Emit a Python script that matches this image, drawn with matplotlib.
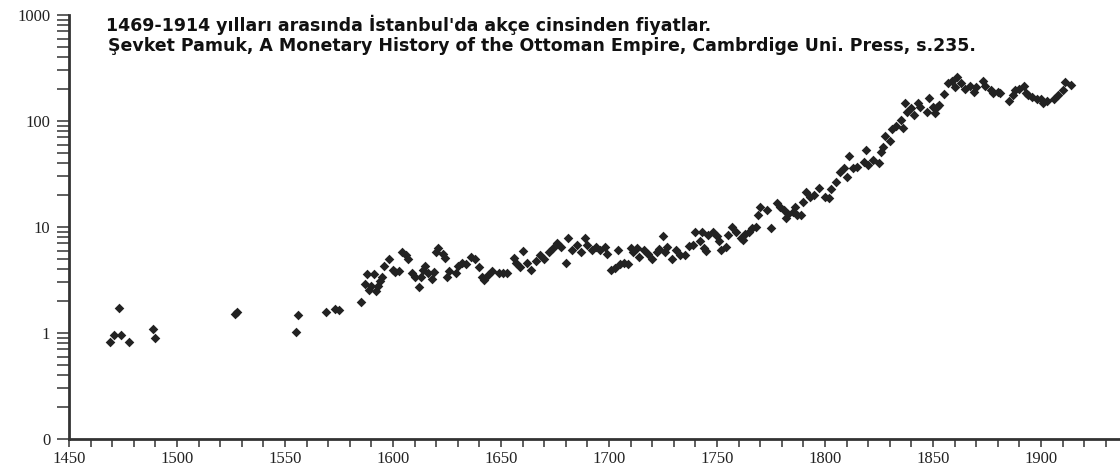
import matplotlib.pyplot as plt
from matplotlib.ticker import FixedLocator, NullFormatter

# price index in akce
years = [1469, 1471, 1473, 1474, 1478, 1489, 1490, 1527, 1528, 1555, 1556,
         1569, 1573, 1575, 1585, 1587, 1588, 1589, 1590, 1591, 1592, 1593,
         1594, 1595, 1596, 1598, 1600, 1601, 1603, 1604, 1606, 1607, 1609,
         1610, 1612, 1613, 1614, 1615, 1616, 1618, 1619, 1620, 1621, 1623,
         1624, 1625, 1626, 1629, 1630, 1632, 1634, 1636, 1638, 1640, 1641,
         1642, 1644, 1646, 1649, 1651, 1653, 1656, 1657, 1659, 1660, 1662,
         1664, 1666, 1668, 1670, 1672, 1674, 1676, 1678, 1680, 1681, 1683,
         1685, 1687, 1689, 1690, 1692, 1694, 1696, 1698, 1699, 1701, 1703,
         1704, 1705, 1707, 1709, 1710, 1711, 1713, 1714, 1716, 1718, 1720,
         1722, 1723, 1725, 1726, 1727, 1729, 1731, 1733, 1735, 1737, 1739,
         1740, 1742, 1743, 1744, 1745, 1746, 1748, 1750, 1751, 1752, 1754,
         1755, 1757, 1759, 1761, 1762, 1763, 1765, 1766, 1768, 1769, 1770,
         1773, 1775, 1778, 1779, 1781, 1782, 1783, 1785, 1786, 1787, 1789,
         1790, 1791, 1793, 1795, 1797, 1800, 1802, 1803, 1805, 1807, 1809,
         1810, 1811, 1813, 1815, 1818, 1819, 1820, 1822, 1825, 1826, 1827,
         1828, 1830, 1831, 1833, 1835, 1836, 1837, 1838, 1840, 1841, 1843,
         1844, 1847, 1848, 1850, 1851, 1852, 1853, 1855, 1857, 1859, 1860,
         1861, 1863, 1865, 1867, 1869, 1870, 1873, 1874, 1877, 1878, 1880,
         1881, 1885, 1887, 1888, 1890, 1892, 1893, 1894, 1896, 1898, 1900,
         1901, 1903, 1906, 1908, 1910, 1911, 1914]
prices = [0.83, 0.96, 1.73, 0.96, 0.82, 1.08, 0.90, 1.50, 1.58, 1.02, 1.47,
          1.58, 1.69, 1.65, 1.95, 2.9, 3.6, 2.55, 2.75, 3.6, 2.5, 2.75,
          3.1, 3.4, 4.3, 5.0, 3.97, 3.78, 3.84, 5.85, 5.45, 5.0, 3.72,
          3.4, 2.74, 3.4, 3.97, 4.3, 3.72, 3.2, 3.78, 5.85, 6.3, 5.6,
          5.1, 3.4, 3.84, 3.66, 4.3, 4.6, 4.5, 5.25, 5.0, 4.2, 3.4,
          3.16, 3.5, 3.84, 3.66, 3.72, 3.72, 5.1, 4.6, 4.2, 6.0, 4.6,
          3.97, 4.8, 5.45, 5.0, 5.85, 6.3, 7.0, 6.5, 4.6, 7.8, 6.07,
          6.8, 5.85, 7.8, 6.8, 6.07, 6.5, 6.07, 6.5, 5.6, 3.97, 4.1,
          6.07, 4.5, 4.6, 4.5, 6.3, 5.85, 6.3, 5.25, 6.07, 5.6, 5.0,
          5.85, 6.2, 8.2, 5.75, 6.5, 5.0, 6.07, 5.45, 5.45, 6.6, 6.76,
          9.0, 7.3, 9.0, 6.4, 6.0, 8.4, 9.0, 8.2, 7.3, 6.1, 6.5,
          8.4, 10.1, 9.0, 7.8, 7.5, 8.6, 9.0, 9.7, 10.1, 13.0, 15.5,
          14.5, 9.7, 17.0, 15.5, 14.5, 12.1, 13.2, 13.9, 15.5, 13.0, 13.0,
          17.3, 21.6, 19.3, 20, 23.2, 19.3, 18.6, 22.6, 26.8, 33.3, 35.8,
          29.9, 46.8, 35.8, 37, 41.4, 53.3, 38.4, 42.9, 40.5, 51.4, 57.3,
          72.2, 65.3, 83.6, 89.8, 102, 85.3, 149, 122, 132, 114, 147,
          135, 122, 164, 137, 118, 135, 141, 179, 227, 240, 208,
          258, 230, 200, 214, 189, 210, 240, 214, 196, 182, 189,
          185, 156, 176, 196, 199, 214, 185, 176, 170, 160, 163,
          147, 156, 163, 176, 196, 235, 219]

x_ticks = list(range(1450, 1940, 10))
x_labels = [str(t) if t % 50 == 0 and t <= 1900 else "" for t in x_ticks]
y_ticks = [0.1, 1, 10, 100, 1000]
y_labels = ["0", "1", "10", "100", "1000"]

title_1 = "1469-1914 yılları arasında İstanbul'da akçe cinsinden fiyatlar."
title_2 = "Şevket Pamuk, A Monetary History of the Ottoman Empire, Cambrdige Uni. Press, s.235."

fig = plt.figure(figsize=(11.2, 4.67), dpi=100)
ax = fig.add_axes([69 / 1120, 1 - 439 / 467, 1 - 69 / 1120, (439 - 15) / 467])

ax.scatter(years, prices, marker="D", s=24, color="#222222", linewidths=0, zorder=3)

ax.set_yscale("log")
ax.set_ylim(0.1, 1000)
ax.set_xlim(1450, 1450 + (1120 - 69) / 2.16)

ax.set_xticks(x_ticks)
ax.set_xticklabels(x_labels, family="Liberation Serif", fontsize=12)
ax.set_yticks(y_ticks)
ax.set_yticklabels(y_labels, family="Liberation Serif", fontsize=12)
minor = [m * 10.0 ** e for e in range(-1, 3) for m in range(2, 10)]
ax.yaxis.set_minor_locator(FixedLocator(minor))
ax.yaxis.set_minor_formatter(NullFormatter())

ax.tick_params(axis="y", which="both", direction="out", length=8.5, width=1.1,
               color="#333333", pad=5, labelcolor="#222222")
ax.tick_params(axis="x", which="both", direction="out", length=5.5, width=1.1,
               color="#333333", pad=3, labelcolor="#222222")

for side in ["top", "right"]:
    ax.spines[side].set_visible(False)
for side in ["left", "bottom"]:
    ax.spines[side].set_linewidth(2.0)
    ax.spines[side].set_color("#333333")

fig.text(106 / 1120, 1 - 25 / 467, title_1, fontsize=12.5, fontweight="bold",
         family="DejaVu Sans", va="center", color="#111111")
fig.text(108 / 1120, 1 - 46 / 467, title_2, fontsize=12.5, fontweight="bold",
         family="DejaVu Sans", va="center", color="#111111")

fig.savefig("out.png", dpi=100)
